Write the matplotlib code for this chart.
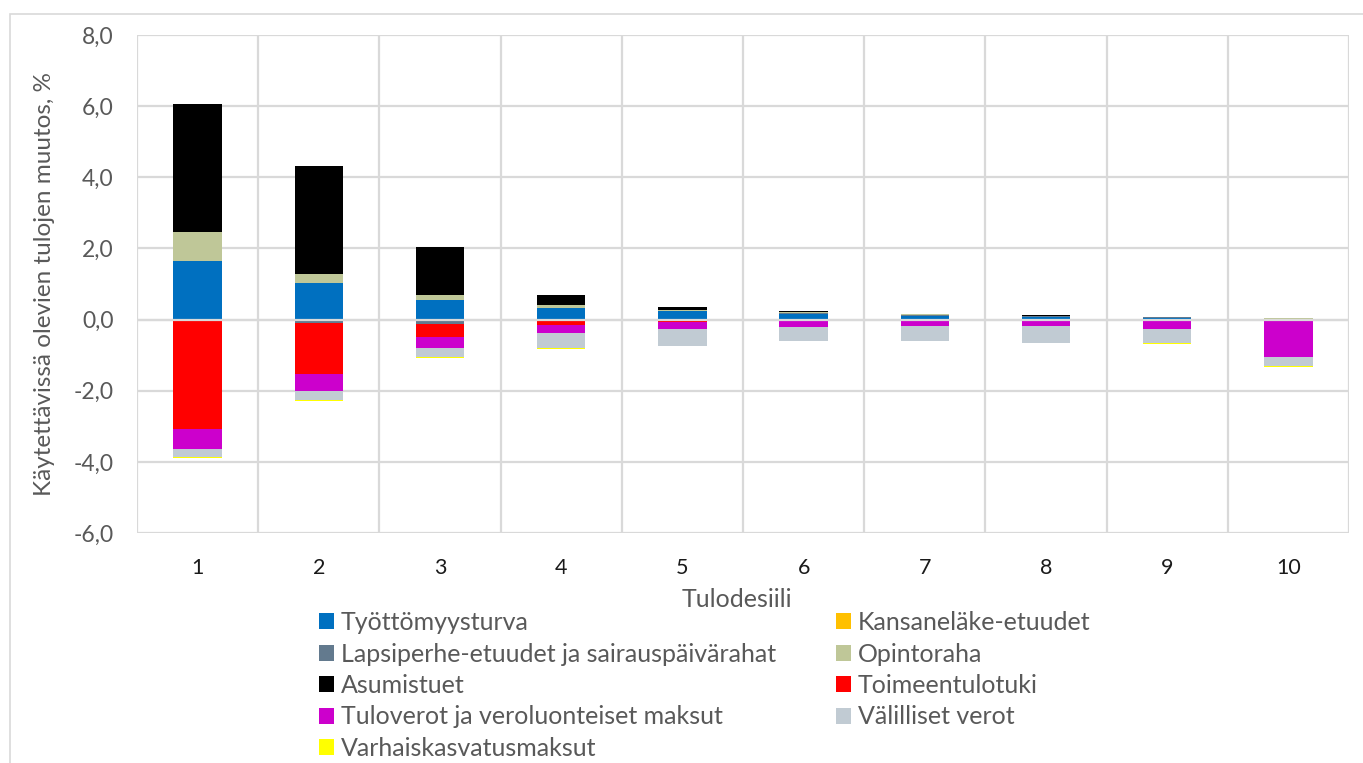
import matplotlib
matplotlib.use("Agg")
import matplotlib.pyplot as plt
import numpy as np
from matplotlib.patches import Patch, Rectangle

plt.rcParams['font.family'] = ['Lato', 'DejaVu Sans']

deciles = ['1', '2', '3', '4', '5', '6', '7', '8', '9', '10']

tyottomyysturva = [1.65, 1.03, 0.56, 0.33, 0.24, 0.17, 0.11, 0.08, 0.05, 0.01]
kansanelake = [0.0, 0.0, 0.0, 0.0, 0.0, 0.0, 0.0, 0.0, 0.0, 0.0]
lapsiperhe = [-0.05, -0.10, -0.12, -0.03, -0.03, 0.01, 0.02, 0.02, 0.01, 0.02]
opintoraha = [0.81, 0.26, 0.13, 0.07, 0.03, 0.02, 0.02, 0.01, 0.01, 0.02]
asumistuet = [3.60, 3.03, 1.34, 0.28, 0.08, 0.03, 0.02, 0.01, 0.0, 0.0]
toimeentulotuki = [-3.02, -1.43, -0.37, -0.13, -0.05, 0.0, 0.0, 0.0, 0.0, 0.0]
tuloverot = [-0.56, -0.48, -0.31, -0.22, -0.19, -0.20, -0.18, -0.18, -0.27, -1.05]
valilliset = [-0.24, -0.25, -0.26, -0.42, -0.46, -0.40, -0.42, -0.47, -0.40, -0.25]
varhaiskasvatus = [-0.01, -0.03, -0.02, -0.02, -0.02, -0.01, -0.01, -0.01, -0.01, -0.02]

series = [
    ('Työttömyysturva', tyottomyysturva, '#0070C0'),
    ('Kansaneläke-etuudet', kansanelake, '#FFC000'),
    ('Lapsiperhe-etuudet ja sairauspäivärahat', lapsiperhe, '#637A8E'),
    ('Opintoraha', opintoraha, '#BFC798'),
    ('Asumistuet', asumistuet, '#000000'),
    ('Toimeentulotuki', toimeentulotuki, '#FF0000'),
    ('Tuloverot ja veroluonteiset maksut', tuloverot, '#CC00CC'),
    ('Välilliset verot', valilliset, '#C1CBD3'),
    ('Varhaiskasvatusmaksut', varhaiskasvatus, '#FFFF00'),
]

grid_c = '#D9D9D9'
text_c = '#595959'

fig = plt.figure(figsize=(13.63, 7.63), dpi=100)
ax = fig.add_axes([137/1363, 1 - 533/763, (1349-137)/1363, (533-35)/763])

x = np.arange(1, len(deciles) + 1)
pos_bottom = np.zeros(len(x))
neg_bottom = np.zeros(len(x))
handles = []
for name, vals, col in series:
    v = np.array(vals)
    bottom = np.where(v >= 0, pos_bottom, neg_bottom)
    ax.bar(x, v, 0.4, bottom=bottom, color=col, zorder=2)
    pos_bottom += np.where(v > 0, v, 0)
    neg_bottom += np.where(v < 0, v, 0)
    handles.append(Patch(facecolor=col, label=name))

ax.set_xlim(0.5, 10.5)
ax.set_ylim(-6, 8)
ax.set_yticks(np.arange(-6, 9, 2))
ax.set_yticklabels([f'{t:.1f}'.replace('.', ',') for t in np.arange(-6, 9, 2)])
ax.set_xticks(x)
ax.set_xticklabels(deciles)
ax.set_xticks(np.arange(0.5, 11, 1), minor=True)

for s in ax.spines.values():
    s.set_visible(False)
ax.grid(True, axis='y', color=grid_c, lw=1.6, zorder=0)
ax.grid(True, axis='x', which='minor', color=grid_c, lw=1.6, zorder=0)
ax.axhline(0, color=grid_c, lw=1.6, zorder=3)
ax.tick_params(axis='both', which='both', length=0)
ax.tick_params(axis='y', labelsize=16.5, labelcolor=text_c, pad=17)
ax.tick_params(axis='x', labelsize=15.5, labelcolor='#1a1a1a', pad=18)

ax.set_ylabel('Käytettävissä olevien tulojen muutos, %', fontsize=17.5, color=text_c)
ax.yaxis.set_label_coords(-0.0677, 0.5)
ax.set_xlabel('Tulodesiili', fontsize=18, color=text_c)
ax.xaxis.set_label_coords(0.495, -0.110)

# legend is filled row by row, two columns
order = [0, 2, 4, 6, 8, 1, 3, 5, 7]
fig.legend([handles[i] for i in order], [handles[i].get_label() for i in order],
           ncol=2, loc='upper left', bbox_to_anchor=(319/1363, 1 - 611/763),
           frameon=False, fontsize=18, labelcolor=text_c,
           handlelength=0.6, handleheight=0.6, handletextpad=0.28,
           columnspacing=2.4, labelspacing=0.34, borderpad=0, borderaxespad=0)

# chart area outline
fig.add_artist(Rectangle((10/1363, -0.1), 1.2, 1 - 14/763 + 0.1,
                         transform=fig.transFigure, fill=False,
                         edgecolor=grid_c, lw=1.2))

fig.savefig('out.png', dpi=100)
